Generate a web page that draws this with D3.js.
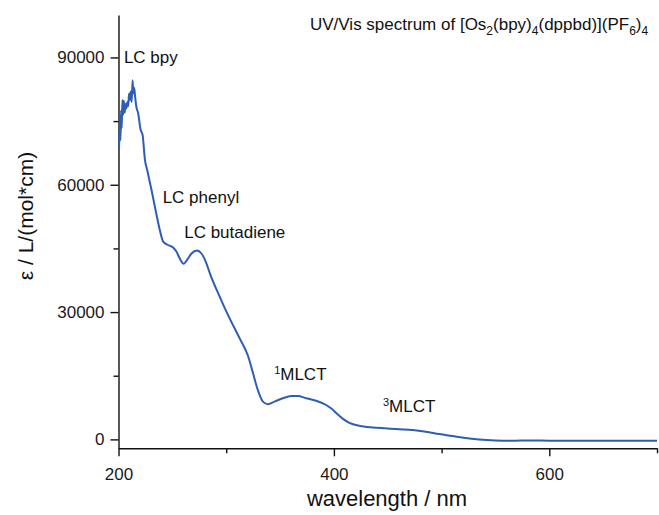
<!DOCTYPE html>
<html>
<head>
<meta charset="utf-8">
<script src="https://cdn.jsdelivr.net/npm/d3@7"></script>
<style>
  html, body { margin: 0; padding: 0; background: #fff; }
  svg { display: block; font-family: "Liberation Sans", Arial, sans-serif; }
  .axis text { font-size: 17px; fill: #1a1a1a; font-family: "Liberation Sans", Arial, sans-serif; }
  .axis path, .axis line { stroke: #111; stroke-width: 1.4; }
  .ann { font-size: 17px; fill: #111; }
</style>
</head>
<body>
<svg id="chart" width="659" height="515"></svg>
<script>
// wavelength (nm) and molar absorptivity
const wavelength = [
  200.5, 201.2, 201.8, 202.4, 203.0, 203.6, 204.3, 205.0, 205.8, 206.6,
  207.4, 208.2, 209.0, 209.8, 210.6, 211.4, 212.2, 213.1, 213.8, 214.6,
  215.4, 216.5, 218.3, 220.5, 222.4, 224.5, 226.7, 230.7, 233.8, 238.4,
  241.5, 246.0, 250.7, 253.9, 256.9, 260.6, 263.7, 267.8, 273.0, 277.0,
  281.6, 285.0, 294.0, 303.2, 312.5, 320.2, 324.8, 329.4, 334.1, 338.7,
  344.9, 352.6, 360.4, 366.5, 374.3, 383.5, 392.8, 398.0, 403.0, 408.1,
  414.4, 423.6, 436.0, 448.3, 460.6, 473.0, 485.4, 497.7, 510.0, 522.4,
  534.7, 550.0, 565.6, 581.0, 600.0, 620.0, 640.0, 660.0, 680.0, 700.0
];
const epsilon = [
  68600, 74000, 70500, 77500, 73300, 80000, 76500, 79800, 77000, 79000,
  78000, 79500, 78500, 81500, 80000, 82000, 79500, 84600, 81500, 82800,
  80800, 78500, 76800, 73000, 71700, 66000, 63400, 58700, 54800, 49300,
  46600, 45800, 45200, 44200, 42600, 41400, 42300, 43800, 44500, 43800,
  41500, 39000, 33600, 28500, 23800, 19700, 15700, 11600, 8900, 8300,
  8900, 9700, 10200, 10200, 9700, 9100, 8100, 7200, 6000, 4900,
  3900, 3200, 2800, 2600, 2400, 2200, 1800, 1250, 780, 310,
  0, -240, -330, -250, -300, -320, -300, -330, -310, -320
];
const xTicks = [200, 400, 600];
const xMinorTicks = [300, 500, 700];
const yTicks = [0, 30000, 60000, 90000];
const yMinorTicks = [15000, 45000, 75000];

// band labels: text, superscript prefix, anchor wavelength / epsilon
const bandLabels = ['LC bpy', 'LC phenyl', 'LC butadiene', 'MLCT', 'MLCT'];
const bandSup = ['', '', '', '1', '3'];
const bandWl = [205, 241, 261, 344.5, 445.5];
const bandEps = [88600, 55800, 47500, 14000, 6450];

(function () {
  const svg = d3.select('#chart');
  const x = d3.scaleLinear().domain([200, 700]).range([118.5, 657]);
  const y = d3.scaleLinear().domain([-2100, 100000]).range([448.3, 15]);
  const left = x.range()[0], bottom = y.range()[0];

  // minor ticks first so the major axis sits on top
  svg.append('g').attr('class', 'axis').attr('transform', `translate(${left},0)`)
    .call(d3.axisLeft(y).tickValues(yMinorTicks).tickSize(5).tickFormat(''))
    .call(s => s.select('.domain').remove());
  svg.append('g').attr('class', 'axis').attr('transform', `translate(0,${bottom})`)
    .call(d3.axisBottom(x).tickValues(xMinorTicks).tickSize(5).tickFormat(''))
    .call(s => s.select('.domain').remove());

  svg.append('g').attr('class', 'axis').attr('transform', `translate(${left},0)`)
    .call(d3.axisLeft(y).tickValues(yTicks).tickSize(8).tickSizeOuter(0).tickPadding(6).tickFormat(d3.format('d')));
  svg.append('g').attr('class', 'axis').attr('transform', `translate(0,${bottom})`)
    .call(d3.axisBottom(x).tickValues(xTicks).tickSize(8).tickSizeOuter(0).tickPadding(12).tickFormat(d3.format('d')));

  const pts = wavelength.map((w, i) => [w, epsilon[i]]);
  const line = d3.line().x(d => x(d[0])).y(d => y(d[1])).curve(d3.curveMonotoneX);
  svg.append('path').datum(pts)
    .attr('d', line)
    .attr('fill', 'none')
    .attr('stroke', '#2d5db4')
    .attr('stroke-width', 2)
    .attr('stroke-linejoin', 'round');

  // axis titles
  svg.append('text').attr('x', 387).attr('y', 506).attr('text-anchor', 'middle')
    .style('font-size', '22px').attr('fill', '#111').text('wavelength / nm');
  svg.append('text').attr('transform', 'translate(33,216) rotate(-90)').attr('text-anchor', 'middle')
    .style('font-size', '21px').attr('fill', '#111').text('ε / L/(mol*cm)');

  // title with sub-scripts
  const title = svg.append('text').attr('x', 310).attr('y', 30).style('font-size', '17px').attr('fill', '#111');
  const parts = [['UV/Vis spectrum of [Os', 0], ['2', 1], ['(bpy)', 0], ['4', 1], ['(dppbd)](PF', 0], ['6', 1], [')', 0], ['4', 1]];
  let prev = 0;
  parts.forEach(([t, sub]) => {
    title.append('tspan').attr('dy', (sub ? 5 : 0) - (prev ? 5 : 0))
      .style('font-size', sub ? '12px' : '17px').text(t);
    prev = sub;
  });

  bandLabels.forEach((t, i) => {
    const el = svg.append('text').attr('class', 'ann').attr('x', x(bandWl[i])).attr('y', y(bandEps[i]));
    if (bandSup[i]) {
      el.append('tspan').attr('dy', -6).style('font-size', '11px').text(bandSup[i]);
      el.append('tspan').attr('dy', 6).text(t);
    } else {
      el.text(t);
    }
  });
})();
</script>
</body>
</html>
